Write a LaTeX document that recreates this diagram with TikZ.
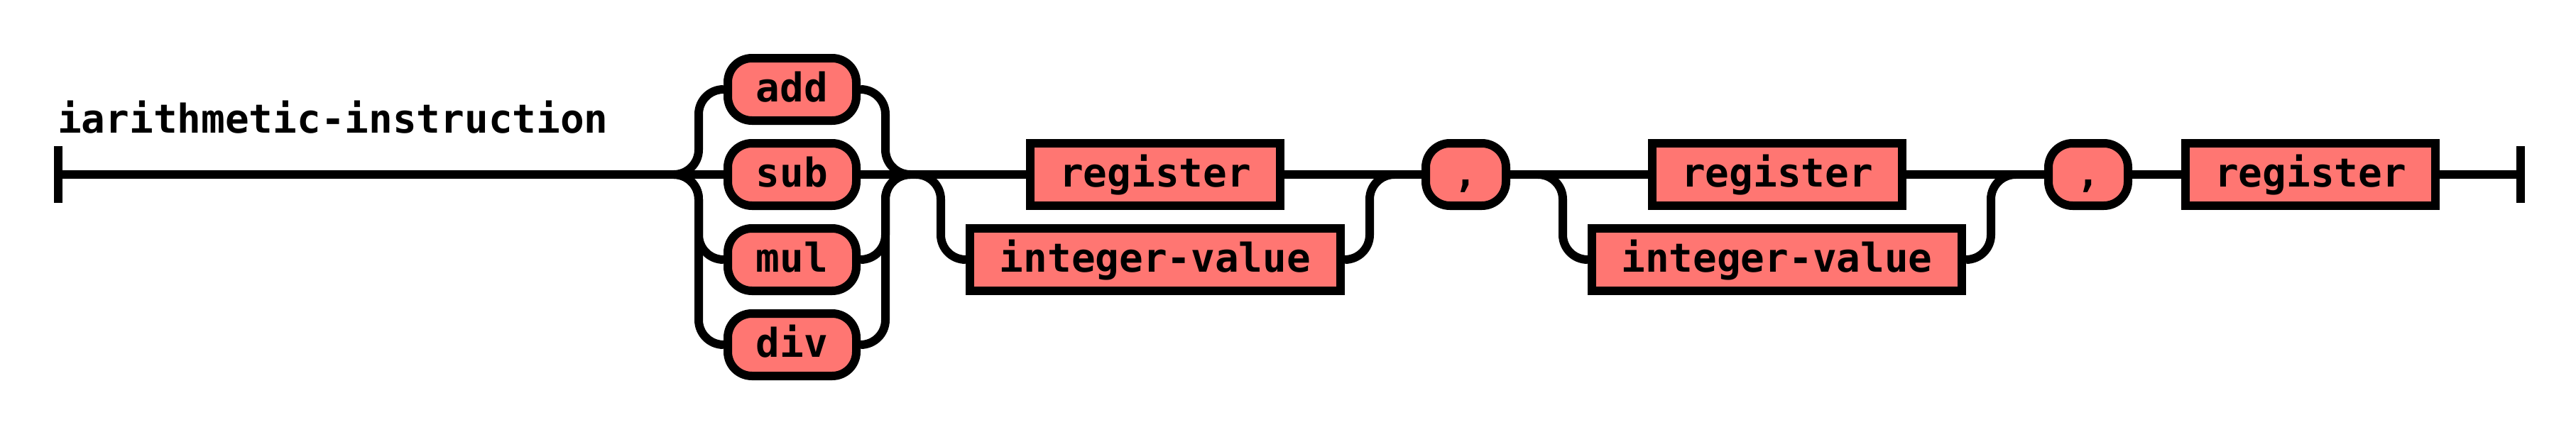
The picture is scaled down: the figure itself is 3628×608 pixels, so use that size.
\documentclass[tikz,border=0pt]{standalone}
\usepackage{fontspec}
\newfontfamily\rrfont{DejaVu Sans Mono}
\definecolor{termfill}{HTML}{FF7672}
\usetikzlibrary{calc}
\begin{document}
\begin{tikzpicture}[x=1pt,y=-1pt,
  rail/.style={line width=12pt,black},
  railc/.style={rail,rounded corners=35pt},
  boxbase/.style={draw=black,line width=12pt,fill=termfill,inner sep=0pt,
    minimum height=88pt,text height=42pt,text depth=8pt,
    font=\rrfont\bfseries\fontsize{56}{60}\selectfont},
  term/.style={boxbase,rounded corners=34pt},
  nonterm/.style={boxbase}]
\useasboundingbox (0,0) rectangle (3628,608);
% title
\node[anchor=base west,inner sep=0pt,font=\rrfont\bfseries\fontsize{56}{60}\selectfont] (title) at (81,187) {iarithmetic-instruction};
% coordinates
\coordinate (start) at (82,246);
\coordinate (startT) at (82,206);
\coordinate (startB) at (82,286);
\coordinate (finish) at (3550,246);
\coordinate (finishT) at (3550,206);
\coordinate (finishB) at (3550,286);
\coordinate (s1) at (949,246);
\coordinate (l1) at (984,246);
\coordinate (r1) at (1247,246);
\coordinate (m1) at (1282,246);
\coordinate (s2) at (1290,246);
\coordinate (l2) at (1325,246);
\coordinate (r2) at (1929,246);
\coordinate (m2) at (1964,246);
\coordinate (s3) at (2166,246);
\coordinate (l3) at (2201,246);
\coordinate (r3) at (2804,246);
\coordinate (m3) at (2839,246);
% rails (drawn first)
\path (1115.5,126) coordinate (cadd) (1115.5,246) coordinate (csub)
      (1115.5,366) coordinate (cmul) (1115.5,486) coordinate (cdiv);
% nodes
\node[term,minimum width=181pt] (add) at (cadd) {add};
\node[term,minimum width=181pt] (sub) at (csub) {sub};
\node[term,minimum width=181pt] (mul) at (cmul) {mul};
\node[term,minimum width=181pt] (div) at (cdiv) {div};
\node[nonterm,minimum width=352pt] (reg1) at (1627,246) {register};
\node[nonterm,minimum width=522pt] (int1) at (1627,366) {integer-value};
\node[term,minimum width=113pt] (comma1) at (2064.5,246) {,};
\node[nonterm,minimum width=352pt] (reg2) at (2503,246) {register};
\node[nonterm,minimum width=521pt] (int2) at (2502.5,366) {integer-value};
\node[term,minimum width=112pt] (comma2) at (2941,246) {,};
\node[nonterm,minimum width=352pt] (reg3) at (3254,246) {register};
% bars
\draw[rail] (startT) -- (startB);
\draw[rail] (finishT) -- (finishB);
% main line
\draw[rail] (start) -- (sub.west);
\draw[rail] (sub.east) -- (reg1.west);
\draw[rail] (reg1.east) -- (comma1.west);
\draw[rail] (comma1.east) -- (reg2.west);
\draw[rail] (reg2.east) -- (comma2.west);
\draw[rail] (comma2.east) -- (reg3.west);
\draw[rail] (reg3.east) -- (finish);
% choice 1
\draw[railc] (s1) -- (l1) |- (add.west);
\draw[railc] (s1) -- (l1) |- (mul.west);
\draw[railc] (s1) -- (l1) |- (div.west);
\draw[railc] (add.east) -| (r1) -- (m1);
\draw[railc] (mul.east) -| (r1) -- (m1);
\draw[railc] (div.east) -| (r1) -- (m1);
% choice 2
\draw[railc] (s2) -- (l2) |- (int1.west);
\draw[railc] (int1.east) -| (r2) -- (m2);
% choice 3
\draw[railc] (s3) -- (l3) |- (int2.west);
\draw[railc] (int2.east) -| (r3) -- (m3);
\end{tikzpicture}
\end{document}
